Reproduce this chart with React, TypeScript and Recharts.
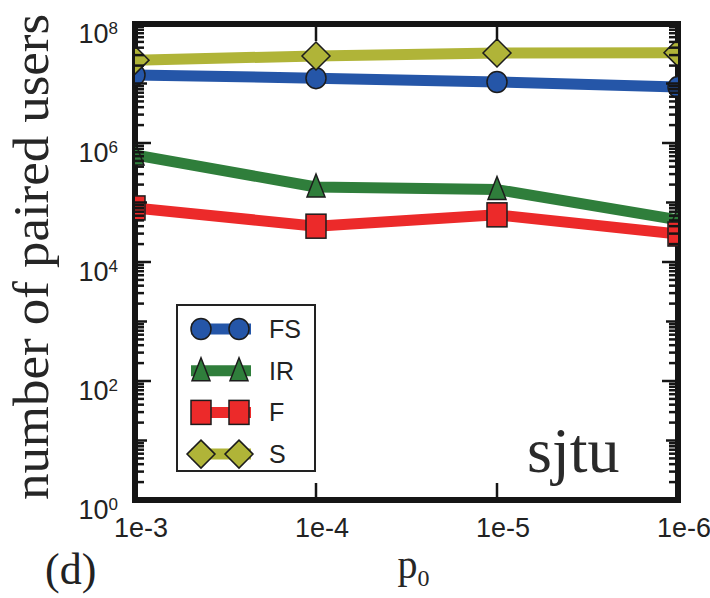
import React from "react";
import {
  LineChart,
  Line,
  XAxis,
  YAxis,
  Legend,
  Customized,
} from "recharts";

// p0 thresholds along the x axis
const pValues = ["1e-3", "1e-4", "1e-5", "1e-6"];

// number of paired users per method (sjtu trace)
const fsUsers = [1.39e7, 1.23e7, 1.06e7, 8.7e6];
const irUsers = [6.3e5, 1.82e5, 1.65e5, 5.1e4];
const fUsers = [8.1e4, 4.0e4, 6.2e4, 2.95e4];
const sUsers = [2.47e7, 2.9e7, 3.25e7, 3.3e7];

// log axis: labelled every two decades, minor ticks in between
const majorTicks = [1, 1e2, 1e4, 1e6, 1e8];
const minorFactors = [2, 3, 4, 5, 6, 7, 8, 9];

const yTicks: number[] = [];
for (let e = 0; e < 8; e++) {
  const base = Math.pow(10, e);
  yTicks.push(base);
  minorFactors.forEach((m) => yTicks.push(m * base));
}
yTicks.push(1e8);

const data = pValues.map((p, i) => ({
  p,
  FS: fsUsers[i],
  IR: irUsers[i],
  F: fUsers[i],
  S: sUsers[i],
}));

type Shape = "circle" | "triangle" | "square" | "diamond";

const series: { key: string; color: string; shape: Shape }[] = [
  { key: "FS", color: "#2556a8", shape: "circle" },
  { key: "IR", color: "#2f7e3b", shape: "triangle" },
  { key: "F", color: "#ec2a2a", shape: "square" },
  { key: "S", color: "#b0b438", shape: "diamond" },
];

const EDGE = "#1c1c1c";
const AXIS = "#151515";
const SANS = "'Liberation Sans', Arial, sans-serif";
const SERIF = "'Liberation Serif', 'Times New Roman', serif";

function marker(shape: Shape, cx: number, cy: number, color: string, key?: string) {
  const common = { fill: color, stroke: EDGE, strokeWidth: 1.5, key };
  switch (shape) {
    case "circle":
      return <ellipse {...common} cx={cx} cy={cy} rx={10} ry={10.5} />;
    case "triangle":
      return (
        <polygon
          {...common}
          points={`${cx},${cy - 13} ${cx + 9},${cy + 10} ${cx - 9},${cy + 10}`}
        />
      );
    case "square":
      return <rect {...common} x={cx - 10} y={cy - 12} width={20} height={24} />;
    default:
      return (
        <polygon
          {...common}
          points={`${cx},${cy - 14} ${cx + 14},${cy} ${cx},${cy + 14} ${cx - 14},${cy}`}
        />
      );
  }
}

function isDecade(v: number) {
  const e = Math.round(Math.log10(v));
  return Math.abs(v - Math.pow(10, e)) < 1e-6 * v;
}

function tickLength(v: number) {
  if (majorTicks.includes(v)) return 13;
  return isDecade(v) ? 9 : 6;
}

function LeftTick(props: any) {
  const { x, y, payload } = props;
  const v = payload.value as number;
  const major = majorTicks.includes(v);
  return (
    <g>
      <line x1={x} x2={x + 3 + tickLength(v)} y1={y} y2={y} stroke={AXIS} strokeWidth={2.5} />
      {major && (
        <text
          x={x - 17}
          y={y + 19}
          textAnchor="end"
          fontFamily={SANS}
          fontSize={27}
          fill="#222"
        >
          10
          <tspan dy={-9} fontSize={17}>
            {Math.round(Math.log10(v))}
          </tspan>
        </text>
      )}
    </g>
  );
}

function RightTick(props: any) {
  const { x, y, payload } = props;
  const v = payload.value as number;
  return (
    <line x1={x} x2={x - 3 - tickLength(v)} y1={y} y2={y} stroke={AXIS} strokeWidth={2.5} />
  );
}

function BottomTick(props: any) {
  const { x, y, payload } = props;
  return (
    <g>
      <line x1={x} x2={x} y1={y} y2={y - 17} stroke={AXIS} strokeWidth={2.5} />
      <text
        x={x + 6}
        y={y + 37}
        textAnchor="middle"
        fontFamily={SANS}
        fontSize={27}
        fill="#222"
      >
        {payload.value}
      </text>
    </g>
  );
}

function TopTick(props: any) {
  const { x, y } = props;
  return <line x1={x} x2={x} y1={y} y2={y + 17} stroke={AXIS} strokeWidth={2.5} />;
}

function makeDot(shape: Shape, color: string) {
  return (props: any) => marker(shape, props.cx, props.cy, color, `dot-${props.index}`);
}

// legend rows follow the series order, not the alphabetical payload order
function LegendBox() {
  return (
    <svg width={141} height={169} style={{ display: "block" }}>
      <rect x={1} y={1} width={138} height={166} fill="#fff" stroke="#222" strokeWidth={2} />
      {series.map((s, i) => {
        const cy = 25 + i * 41.7;
        return (
          <g key={s.key}>
            <line x1={15} x2={75} y1={cy} y2={cy} stroke={s.color} strokeWidth={11} />
            {marker(s.shape, 25, cy, s.color)}
            {marker(s.shape, 63, cy, s.color)}
            <text x={93} y={cy + 9} fontFamily={SANS} fontSize={25} fill="#222">
              {s.key}
            </text>
          </g>
        );
      })}
    </svg>
  );
}

function Annotations() {
  return (
    <g>
      <text x={527} y={472} fontFamily={SERIF} fontSize={64} fill="#2a2a2a">
        sjtu
      </text>
      <text x={45} y={584} fontFamily={SERIF} fontSize={44} fill="#222">
        (d)
      </text>
    </g>
  );
}

function YTitle(props: any) {
  const { viewBox } = props;
  const x = viewBox.x + 43;
  const y = viewBox.y + viewBox.height / 2 - 5;
  return (
    <text
      x={x}
      y={y}
      transform={`rotate(-90, ${x}, ${y})`}
      textAnchor="middle"
      fontFamily={SERIF}
      fontSize={50}
      textLength={486}
      lengthAdjust="spacingAndGlyphs"
      fill="#262626"
    >
      number of paired users
    </text>
  );
}

function XTitle(props: any) {
  const { viewBox } = props;
  const x = viewBox.x + viewBox.width / 2 + 7;
  return (
    <text x={x} y={578} textAnchor="middle" fontFamily={SERIF} fontSize={40} fill="#262626">
      p
      <tspan dy={8} fontSize={24}>
        0
      </tspan>
    </text>
  );
}

const axisLine = { stroke: AXIS, strokeWidth: 6, strokeLinecap: "square" as const };

export default function App() {
  return (
    <div
      style={{
        position: "absolute",
        left: 0,
        top: 0,
        width: 710,
        height: 598,
        background: "#fff",
      }}
    >
      <LineChart
        width={710}
        height={598}
        data={data}
        margin={{ top: 22, right: 30, bottom: 58, left: 5 }}
      >
        {series.map((s) => (
          <Line
            key={s.key}
            dataKey={s.key}
            name={s.key}
            type="linear"
            stroke={s.color}
            strokeWidth={11}
            strokeLinejoin="round"
            dot={makeDot(s.shape, s.color)}
            activeDot={false}
            isAnimationActive={false}
          />
        ))}
        <XAxis
          dataKey="p"
          height={40}
          axisLine={axisLine}
          tickLine={false}
          tickSize={0}
          tickMargin={0}
          tick={BottomTick}
          interval={0}
          allowDataOverflow
          label={<XTitle />}
        />
        <XAxis
          xAxisId="top"
          dataKey="p"
          orientation="top"
          height={2}
          axisLine={axisLine}
          tickLine={false}
          tickSize={0}
          tickMargin={0}
          tick={TopTick}
          interval={0}
        />
        <YAxis
          scale="log"
          domain={[1, 1e8]}
          ticks={yTicks}
          interval={0}
          width={130}
          axisLine={axisLine}
          tickLine={false}
          tickSize={0}
          tickMargin={0}
          tick={LeftTick}
          allowDataOverflow
          label={<YTitle />}
        />
        <YAxis
          yAxisId="right"
          orientation="right"
          scale="log"
          domain={[1, 1e8]}
          ticks={yTicks}
          interval={0}
          width={2}
          axisLine={axisLine}
          tickLine={false}
          tickSize={0}
          tickMargin={0}
          tick={RightTick}
          allowDataOverflow
        />
        <Legend
          layout="horizontal"
          verticalAlign="middle"
          align="center"
          content={<LegendBox />}
          wrapperStyle={{ left: 176, top: 304, width: 141, height: 169 }}
        />
        <Customized component={Annotations} />
      </LineChart>
    </div>
  );
}
